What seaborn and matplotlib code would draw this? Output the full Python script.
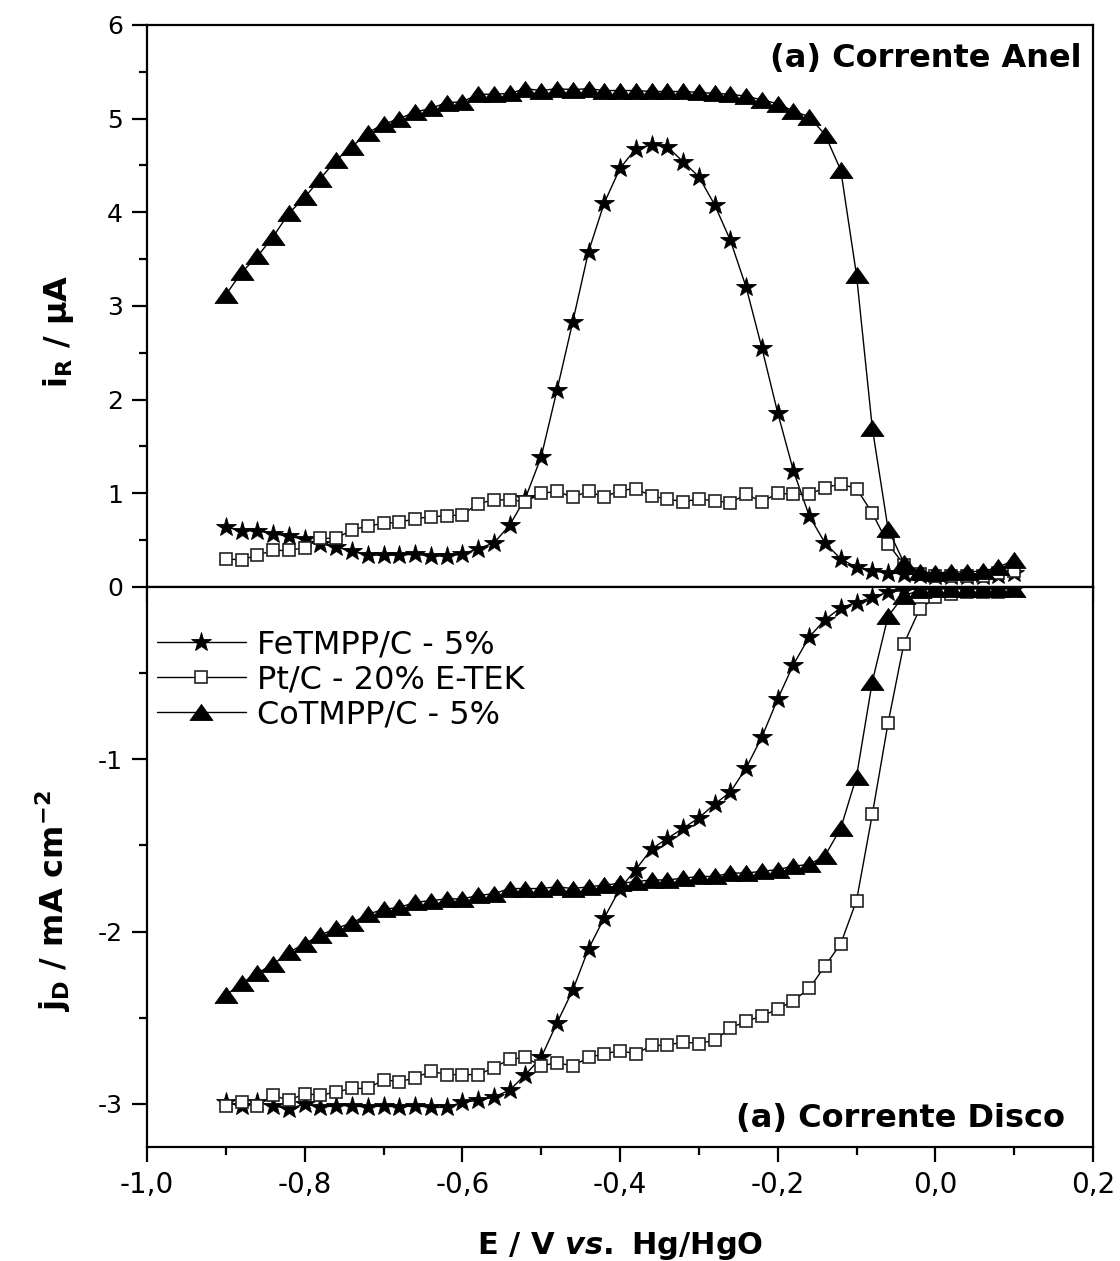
import numpy as np
import pandas as pd
import matplotlib
matplotlib.use("Agg")
import matplotlib.pyplot as plt
from matplotlib.path import Path
from matplotlib.ticker import MultipleLocator, FixedLocator
import seaborn as sns

# ---------------- data ----------------
E = [-0.90, -0.88, -0.86, -0.84, -0.82, -0.80, -0.78, -0.76, -0.74, -0.72,
     -0.70, -0.68, -0.66, -0.64, -0.62, -0.60, -0.58, -0.56, -0.54, -0.52,
     -0.50, -0.48, -0.46, -0.44, -0.42, -0.40, -0.38, -0.36, -0.34, -0.32,
     -0.30, -0.28, -0.26, -0.24, -0.22, -0.20, -0.18, -0.16, -0.14, -0.12,
     -0.10, -0.08, -0.06, -0.04, -0.02, 0.00, 0.02, 0.04, 0.06, 0.08, 0.10]

ring_fe = [0.64, 0.60, 0.60, 0.57, 0.54, 0.51, 0.46, 0.43, 0.38, 0.34,
           0.34, 0.34, 0.35, 0.33, 0.33, 0.35, 0.41, 0.47, 0.66, 0.95,
           1.39, 2.10, 2.83, 3.58, 4.10, 4.47, 4.68, 4.72, 4.70, 4.54,
           4.38, 4.08, 3.70, 3.20, 2.55, 1.86, 1.24, 0.76, 0.47, 0.30,
           0.21, 0.17, 0.15, 0.14, 0.13, 0.12, 0.12, 0.12, 0.12, 0.13, 0.15]

ring_pt = [0.30, 0.29, 0.34, 0.39, 0.39, 0.42, 0.52, 0.52, 0.61, 0.65,
           0.68, 0.69, 0.73, 0.75, 0.76, 0.77, 0.89, 0.93, 0.93, 0.91,
           1.00, 1.02, 0.96, 1.02, 0.96, 1.03, 1.05, 0.97, 0.94, 0.91,
           0.94, 0.92, 0.90, 0.99, 0.91, 1.00, 0.99, 0.99, 1.06, 1.10,
           1.05, 0.79, 0.46, 0.24, 0.14, 0.12, 0.12, 0.12, 0.12, 0.15, 0.17]

ring_co = [3.12, 3.36, 3.53, 3.74, 3.99, 4.16, 4.36, 4.56, 4.70, 4.85,
           4.94, 5.00, 5.07, 5.11, 5.17, 5.18, 5.26, 5.26, 5.27, 5.32,
           5.30, 5.32, 5.31, 5.32, 5.30, 5.30, 5.30, 5.29, 5.29, 5.29,
           5.28, 5.27, 5.26, 5.24, 5.20, 5.16, 5.08, 5.02, 4.83, 4.45,
           3.33, 1.70, 0.62, 0.26, 0.16, 0.15, 0.16, 0.16, 0.17, 0.21, 0.29]

disk_fe = [-2.99, -3.01, -2.99, -3.01, -3.03, -3.00, -3.02, -3.01, -3.01, -3.02,
           -3.01, -3.02, -3.01, -3.02, -3.02, -2.99, -2.98, -2.96, -2.92, -2.83,
           -2.73, -2.53, -2.34, -2.10, -1.92, -1.75, -1.64, -1.52, -1.46, -1.40,
           -1.34, -1.26, -1.19, -1.05, -0.87, -0.65, -0.45, -0.29, -0.19, -0.12,
           -0.09, -0.06, -0.03, -0.02, -0.01, -0.01, -0.01, -0.01, -0.01, -0.01, -0.01]

disk_pt = [-3.01, -2.99, -3.01, -2.95, -2.98, -2.94, -2.95, -2.93, -2.91, -2.91,
           -2.86, -2.87, -2.85, -2.81, -2.83, -2.83, -2.83, -2.79, -2.74, -2.73,
           -2.78, -2.76, -2.78, -2.73, -2.71, -2.69, -2.71, -2.66, -2.66, -2.64,
           -2.65, -2.63, -2.56, -2.52, -2.49, -2.45, -2.40, -2.33, -2.20, -2.07,
           -1.82, -1.32, -0.79, -0.33, -0.13, -0.06, -0.04, -0.03, -0.03, -0.03, -0.02]

disk_co = [-2.37, -2.30, -2.24, -2.19, -2.12, -2.07, -2.02, -1.98, -1.95, -1.90,
           -1.87, -1.86, -1.83, -1.82, -1.81, -1.81, -1.79, -1.78, -1.75, -1.75,
           -1.75, -1.74, -1.75, -1.74, -1.73, -1.72, -1.71, -1.70, -1.70, -1.69,
           -1.68, -1.68, -1.66, -1.66, -1.65, -1.64, -1.62, -1.61, -1.56, -1.40,
           -1.10, -0.55, -0.17, -0.05, -0.02, -0.01, -0.01, -0.01, -0.01, -0.01, -0.01]

series_names = ["FeTMPP/C - 5%", "Pt/C - 20% E-TEK", "CoTMPP/C - 5%"]

xtick_values = [-1.0, -0.8, -0.6, -0.4, -0.2, 0.0, 0.2]
xtick_labels = ["-1,0", "-0,8", "-0,6", "-0,4", "-0,2", "0,0", "0,2"]
top_ytick_values = [0, 1, 2, 3, 4, 5, 6]
bot_ytick_values = [-3, -2, -1]
bot_ytick_labels = ["-3", "-2", "-1"]

# ---------------- style ----------------
sns.set_style("ticks")
plt.rcParams["font.family"] = ["DejaVu Sans"]
plt.rcParams["mathtext.fontset"] = "custom"
plt.rcParams["mathtext.rm"] = "DejaVu Sans:bold"
plt.rcParams["mathtext.bf"] = "DejaVu Sans:bold"
plt.rcParams["mathtext.it"] = "DejaVu Sans:italic:bold"
plt.rcParams["axes.linewidth"] = 1.6
for key in ["text.color", "axes.labelcolor", "xtick.color", "ytick.color",
            "axes.edgecolor", "xtick.labelcolor", "ytick.labelcolor"]:
    plt.rcParams[key] = "black"

tri = Path([(-1, -0.7), (1, -0.7), (0, 0.7), (-1, -0.7)],
           [Path.MOVETO, Path.LINETO, Path.LINETO, Path.CLOSEPOLY])

styles = {
    "FeTMPP/C - 5%": dict(marker="*", markersize=15, markerfacecolor="black",
                          markeredgecolor="black", markeredgewidth=0.6),
    "Pt/C - 20% E-TEK": dict(marker="s", markersize=8.5, markerfacecolor="white",
                             markeredgecolor="#222222", markeredgewidth=1.2),
    "CoTMPP/C - 5%": dict(marker=tri, markersize=16.5, markerfacecolor="black",
                          markeredgecolor="black", markeredgewidth=0.6),
}

fig = plt.figure(figsize=(11.2, 12.61), dpi=100)
ax_top = fig.add_axes([0.1313, 0.5345, 0.8446, 0.4457])
ax_bot = fig.add_axes([0.1313, 0.0904, 0.8446, 0.4441])

ring = {"FeTMPP/C - 5%": ring_fe, "Pt/C - 20% E-TEK": ring_pt, "CoTMPP/C - 5%": ring_co}
disk = {"FeTMPP/C - 5%": disk_fe, "Pt/C - 20% E-TEK": disk_pt, "CoTMPP/C - 5%": disk_co}

for name in series_names:
    df_r = pd.DataFrame({"E": E, "i": ring[name]})
    sns.lineplot(data=df_r, x="E", y="i", ax=ax_top, color="black", linewidth=1.0,
                 estimator=None, sort=False, legend=False, **styles[name])
    df_d = pd.DataFrame({"E": E, "j": disk[name]})
    sns.lineplot(data=df_d, x="E", y="j", ax=ax_bot, color="black", linewidth=1.0,
                 estimator=None, sort=False, label=name, **styles[name])

for ax in (ax_top, ax_bot):
    ax.set_xlim(-1.0, 0.2)
    ax.xaxis.set_major_locator(FixedLocator(xtick_values))
    ax.xaxis.set_minor_locator(MultipleLocator(0.1))
    ax.tick_params(which="major", direction="out", length=10.5, width=1.6,
                   top=False, right=False, colors="black")
    ax.tick_params(which="minor", direction="out", length=5.5, width=1.6,
                   top=False, right=False, colors="black")
    for s in ax.spines.values():
        s.set_linewidth(1.6)
        s.set_color("black")
        s.set_visible(True)

ax_top.set_ylim(0, 6)
ax_top.yaxis.set_major_locator(FixedLocator(top_ytick_values))
ax_top.yaxis.set_minor_locator(MultipleLocator(0.5))
ax_top.tick_params(axis="x", labelbottom=False)
ax_top.tick_params(axis="y", labelsize=18, pad=7)
ax_top.set_xlabel("")
ax_top.set_ylabel(r"$\mathbf{i}_{\mathbf{R}}$ / μA", fontsize=23, fontweight="bold")
ax_top.yaxis.set_label_coords(-0.075, 0.455)

ax_bot.set_ylim(-3.25, 0)
ax_bot.yaxis.set_major_locator(FixedLocator(bot_ytick_values))
ax_bot.set_yticklabels(bot_ytick_labels)
ax_bot.yaxis.set_minor_locator(FixedLocator([-2.5, -1.5, -0.5]))
ax_bot.tick_params(axis="y", labelsize=18, pad=7)
ax_bot.tick_params(axis="x", which="both", bottom=True, top=False, labelsize=20, pad=7)
ax_bot.set_xticklabels(xtick_labels)
ax_bot.set_ylabel(r"$\mathbf{j}_{\mathbf{D}}$ / mA cm$^{\mathbf{-2}}$", fontsize=23,
                  fontweight="bold")
ax_bot.yaxis.set_label_coords(-0.078, 0.44)
ax_bot.set_xlabel(r"E / V $\mathit{vs.}$ Hg/HgO", fontsize=22, fontweight="bold",
                  labelpad=22)

ax_top.text(0.988, 0.925, "(a) Corrente Anel", transform=ax_top.transAxes,
            ha="right", va="baseline", fontsize=23, fontweight="bold")
ax_bot.text(0.970, 0.036, "(a) Corrente Disco", transform=ax_bot.transAxes,
            ha="right", va="baseline", fontsize=23, fontweight="bold")

leg = ax_bot.legend(loc="upper left", bbox_to_anchor=(0.0, 0.941), frameon=False,
                    fontsize=23, handlelength=2.8, handletextpad=0.35,
                    labelspacing=0.12, borderaxespad=0.0, borderpad=0.3)

fig.savefig("out.png", dpi=100)
